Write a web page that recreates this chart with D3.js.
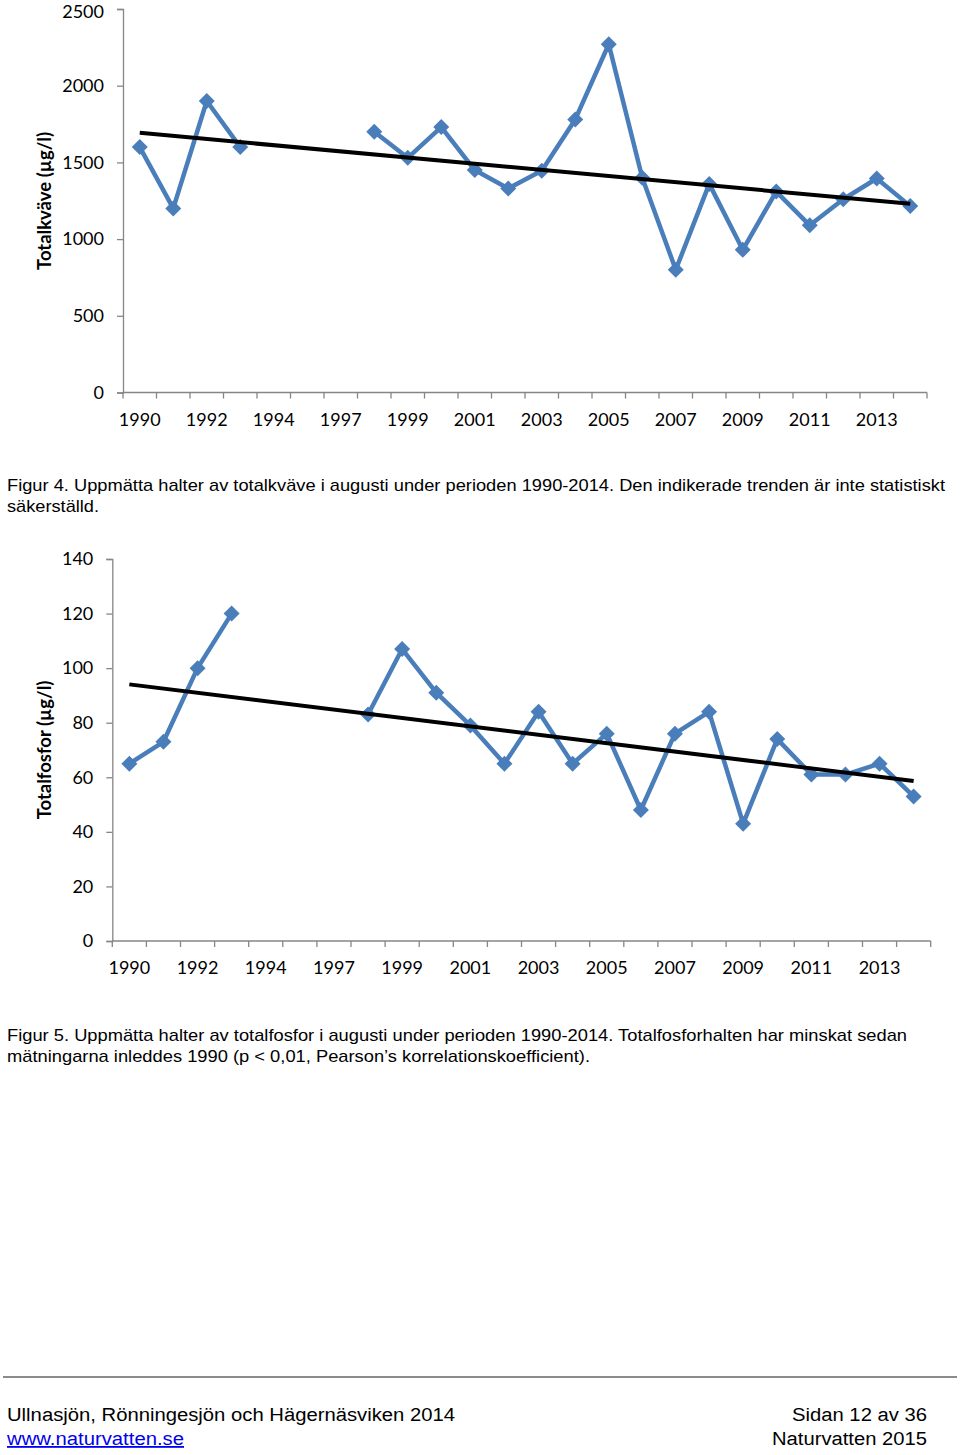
<!DOCTYPE html>
<html><head><meta charset="utf-8">
<script src="https://cdn.jsdelivr.net/npm/d3@7"></script>
<style>body{margin:0;background:#fff}svg{display:block}</style>
</head><body>
<script>
// ---- data ----
const categories = ["1990","1991","1992","1993","1994","1995","1997","1998","1999","2000","2001","2002","2003","2004","2005","2006","2007","2008","2009","2010","2011","2012","2013","2014"];
const tickLabels = ["1990","1992","1994","1997","1999","2001","2003","2005","2007","2009","2011","2013"];
const nitrogen = [1600,1200,1900,1600,null,null,null,1700,1530,1730,1450,1330,1445,1780,2270,1400,800,1360,930,1310,1090,1260,1395,1215];
const phosphorus = [65,73,100,120,null,null,null,83,107,91,79,65,84,65,76,48,76,84,43,74,61,61,65,53];
const nTicks = [0,500,1000,1500,2000,2500];
const pTicks = [0,20,40,60,80,100,120,140];
const caption4 = ["Figur 4. Uppmätta halter av totalkväve i augusti under perioden 1990-2014. Den indikerade trenden är inte statistiskt","säkerställd."];
const caption5 = ["Figur 5. Uppmätta halter av totalfosfor i augusti under perioden 1990-2014. Totalfosforhalten har minskat sedan","mätningarna inleddes 1990 (p < 0,01, Pearson’s korrelationskoefficient)."];

const W = 960, H = 1455;
const svg = d3.select("body").append("svg").attr("width", W).attr("height", H);
const blue = "#4a7ebb", axisCol = "#868686";

function regression(vals){
  const pts = vals.map((v,i)=>[i,v]).filter(d=>d[1]!=null);
  const mx = d3.mean(pts,d=>d[0]), my = d3.mean(pts,d=>d[1]);
  const sxy = d3.sum(pts,d=>(d[0]-mx)*(d[1]-my)), sxx = d3.sum(pts,d=>(d[0]-mx)*(d[0]-mx));
  const b = sxy/sxx, a = my - b*mx;
  return [[0, a], [vals.length-1, a + b*(vals.length-1)]];
}

function chart(o){
  const g = svg.append("g");
  const x = d3.scaleBand().domain(categories).range([o.x0, o.x1]).padding(0);
  const y = d3.scaleLinear().domain([0, o.ymax]).range([o.yb, o.yt]);
  // y axis
  const ya = d3.axisLeft(y).tickValues(o.ticks).tickSize(6).tickPadding(13).tickFormat(d3.format("d"));
  const yg = g.append("g").attr("transform",`translate(${o.x0},0)`).call(ya);
  yg.select(".domain").attr("stroke",axisCol).attr("stroke-width",1.3);
  yg.selectAll(".tick line").attr("stroke",axisCol).attr("stroke-width",1.3);
  yg.selectAll(".tick text").attr("font-family","Lato").attr("font-size",18).attr("fill","#000")
    .attr("dy", d => d === o.ymax && o.topShift ? (0.32*18+o.topShift)+"px" : "0.32em");
  // x axis line
  g.append("line").attr("x1",o.x0).attr("x2",o.x1).attr("y1",o.yb).attr("y2",o.yb).attr("stroke",axisCol).attr("stroke-width",1.3);
  const bounds = categories.map(c=>x(c)).concat([x(categories[categories.length-1])+x.bandwidth()]);
  g.selectAll(".xt").data(bounds).join("line").attr("x1",d=>d).attr("x2",d=>d).attr("y1",o.yb).attr("y2",o.yb+6).attr("stroke",axisCol).attr("stroke-width",1.3);
  g.selectAll(".xl").data(tickLabels).join("text")
    .attr("x",d=>x(d)+x.bandwidth()/2).attr("y",o.yb+33).attr("text-anchor","middle")
    .attr("font-family","Lato").attr("font-size",18).attr("fill","#000").text(d=>d);
  // y title
  g.append("text").attr("transform",`translate(${o.titleX},${o.titleY}) rotate(-90)`)
    .attr("text-anchor","middle").attr("font-family","Lato").attr("font-weight","bold").attr("font-size",18.5)
    .attr("fill","#000").text(o.title);
  // series
  const cx = i => x(categories[i]) + x.bandwidth()/2;
  const data = o.values.map((v,i)=>({i,v}));
  const line = d3.line().defined(d=>d.v!=null).x(d=>cx(d.i)).y(d=>y(d.v));
  g.append("path").datum(data).attr("d",line).attr("fill","none").attr("stroke",blue).attr("stroke-width",4.5).attr("stroke-linejoin","round");
  g.selectAll(".mk").data(data.filter(d=>d.v!=null)).join("path")
    .attr("d",d3.symbol(d3.symbolSquare,128))
    .attr("transform",d=>`translate(${cx(d.i)},${y(d.v)}) rotate(45)`).attr("fill",blue);
  // trend
  const tr = regression(o.values);
  g.append("path").datum(tr).attr("d",d3.line().x(d=>cx(d[0])).y(d=>y(d[1]))).attr("stroke","#000").attr("stroke-width",4).attr("fill","none");
  // caption
  o.caption.forEach((t,k)=>{
    const te = g.append("text").attr("x",7).attr("y",o.capY + k*21).attr("font-family","Liberation Sans").attr("font-size",17).attr("fill","#000").text(t);
    if(o.capLen[k]) te.attr("textLength",o.capLen[k]).attr("lengthAdjust","spacingAndGlyphs");
  });
}

chart({x0:123,x1:927,yb:392.5,yt:9,ymax:2500,topShift:3,ticks:nTicks,values:nitrogen,title:"Totalkväve (µg/l)",titleX:51,titleY:201,caption:caption4,capY:491,capLen:[938,92]});
chart({x0:112.3,x1:930.7,yb:941,yt:559,ymax:140,ticks:pTicks,values:phosphorus,title:"Totalfosfor (µg/l)",titleX:51,titleY:750,caption:caption5,capY:1041,capLen:[900,583]});

// footer
svg.append("line").attr("x1",3).attr("x2",957).attr("y1",1377).attr("y2",1377).attr("stroke","#8c8c8c").attr("stroke-width",2);
const ft = (t,x,y,anchor,len,col)=>{const e=svg.append("text").attr("x",x).attr("y",y).attr("text-anchor",anchor).attr("font-family","Liberation Sans").attr("font-size",18).attr("fill",col||"#000").text(t); if(len) e.attr("textLength",len).attr("lengthAdjust","spacingAndGlyphs"); return e;};
ft("Ullnasjön, Rönningesjön och Hägernäsviken 2014",7,1421,"start",448);
ft("www.naturvatten.se",7,1445,"start",177,"#0000ee").attr("text-decoration","underline");
ft("Sidan 12 av 36",927,1421,"end",135);
ft("Naturvatten 2015",927,1445,"end",155);
</script>
</body></html>
